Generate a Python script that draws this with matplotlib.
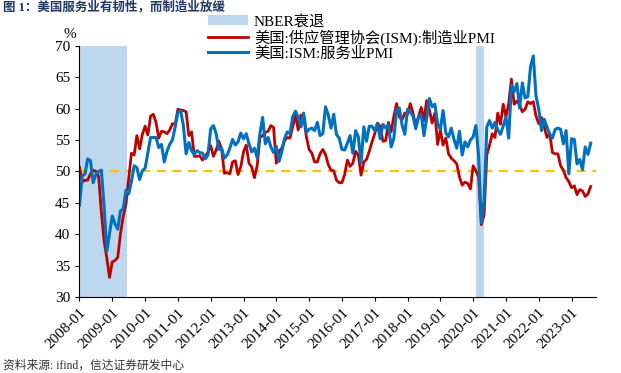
import numpy as np
import matplotlib
matplotlib.use("Agg")
from matplotlib import pyplot as plt
from matplotlib.patches import Patch
from matplotlib.lines import Line2D

# ISM manufacturing PMI, monthly 2008-01 .. 2023-08
mfg_pmi = [
    50.7, 48.3, 48.6, 48.6, 49.6, 50.2, 50.0, 49.2, 43.5, 38.9, 36.2, 33.1,
    35.6, 35.8, 36.3, 40.1, 42.8, 44.8, 48.9, 52.9, 52.6, 55.7, 53.6, 55.9,
    57.2, 55.8, 58.8, 59.1, 57.8, 55.3, 56.4, 56.3, 56.0, 56.6, 57.6, 57.5,
    59.9, 59.8, 59.7, 59.5, 55.7, 56.3, 52.4, 52.4, 52.5, 51.8, 52.4, 53.1,
    54.1, 52.4, 53.4, 54.8, 53.5, 49.7, 49.8, 49.6, 51.5, 51.7, 49.5, 50.7,
    53.1, 54.2, 51.3, 50.7, 49.0, 50.9, 55.4, 55.7, 56.2, 56.4, 57.3, 57.0,
    51.3, 53.2, 53.7, 54.9, 55.4, 55.3, 57.1, 59.0, 56.6, 59.0, 58.7, 55.5,
    53.5, 52.9, 51.5, 51.5, 52.8, 53.5, 52.7, 51.1, 50.2, 50.1, 48.6, 48.2,
    48.2, 49.5, 51.8, 50.8, 51.3, 53.2, 52.6, 49.4, 51.5, 51.9, 53.2, 54.7,
    56.0, 57.7, 57.2, 54.8, 54.9, 57.8, 56.3, 58.8, 60.8, 58.7, 58.2, 59.3,
    59.1, 60.8, 59.3, 57.3, 58.7, 60.2, 58.1, 61.3, 59.8, 57.7, 59.3, 54.3,
    56.6, 54.2, 55.3, 52.8, 52.1, 51.7, 51.2, 49.1, 47.8, 48.3, 48.1, 47.2,
    50.9, 50.1, 49.1, 41.5, 43.1, 52.6, 54.2, 56.0, 55.4, 59.3, 57.5, 60.7,
    58.7, 60.8, 64.7, 60.7, 61.2, 60.6, 59.5, 59.9, 61.1, 60.8, 61.1, 58.8,
    57.6, 58.6, 57.1, 55.4, 56.1, 53.0, 52.8, 52.8, 50.9, 50.2, 49.0, 48.4,
    47.4, 47.7, 46.3, 47.1, 46.9, 46.0, 46.4, 47.6,
]

# ISM services PMI, monthly 2008-01 .. 2023-08
svc_pmi = [
    44.6, 49.3, 49.6, 52.0, 51.7, 48.2, 49.5, 50.0, 50.2, 44.4, 37.3, 40.1,
    42.9, 41.6, 40.8, 43.7, 44.0, 47.0, 46.4, 48.4, 50.9, 50.6, 48.7, 50.1,
    50.5, 53.0, 55.4, 55.4, 55.4, 53.8, 54.3, 51.5, 53.2, 54.3, 55.0, 57.1,
    59.4, 59.7, 57.3, 52.8, 54.6, 53.3, 52.7, 53.3, 53.0, 52.9, 52.0, 52.6,
    56.8, 57.3, 56.0, 53.5, 53.7, 52.1, 52.6, 53.7, 55.1, 54.2, 54.7, 56.1,
    55.2, 56.0, 54.4, 53.1, 53.7, 52.2, 56.0, 58.6, 54.4, 55.4, 53.9, 53.0,
    54.0, 51.6, 53.1, 55.2, 56.3, 56.0, 58.7, 59.6, 58.6, 57.1, 59.3, 56.2,
    56.7, 56.9, 56.5, 57.8, 55.7, 56.0, 60.3, 59.0, 56.9, 59.1, 55.9, 55.3,
    53.5, 53.4, 54.5, 55.7, 52.9, 56.5, 55.5, 51.4, 57.1, 54.8, 57.2, 57.2,
    56.5, 57.6, 55.2, 57.5, 56.9, 57.4, 53.9, 55.3, 59.8, 60.1, 57.4, 55.9,
    59.9, 59.5, 58.8, 56.8, 58.6, 59.1, 55.7, 58.5, 61.6, 60.3, 60.7, 57.6,
    56.7, 59.7, 56.1, 55.5, 56.9, 55.1, 53.7, 56.4, 52.6, 54.7, 53.9, 55.0,
    55.5, 57.3, 52.5, 41.8, 45.4, 57.1, 58.1, 56.9, 57.8, 56.6, 55.9, 57.2,
    58.7, 55.3, 63.7, 62.7, 64.0, 60.1, 64.1, 61.7, 61.9, 66.7, 68.4, 62.0,
    59.9, 56.5, 58.3, 57.1, 55.9, 55.3, 56.7, 56.9, 56.7, 54.4, 56.5, 49.6,
    55.2, 55.1, 51.2, 51.9, 50.3, 53.9, 52.7, 54.5,
]

years = list(range(2008, 2024))
tick_labels = ["%d-01" % y for y in years]
recessions = [(0, 17.5), (145, 148)]  # month offsets from 2008-01

cn = ["Liberation Serif", "Noto Sans CJK SC"]
plt.rcParams["font.family"] = cn

fig = plt.figure(figsize=(6.21, 3.73), dpi=100)
ax = fig.add_axes([0.128, 0.204, 0.832, 0.673])

months = np.arange(len(mfg_pmi))
for a, b in recessions:
    ax.axvspan(a, b, color="#BDD7EE", lw=0)
ax.axhline(50, color="#FFC000", lw=1.6, ls=(0, (4, 3)))
ax.plot(months, mfg_pmi, color="#C00000", lw=2.0)
ax.plot(months, svc_pmi, color="#0070C0", lw=2.2)

ax.set_xlim(0, 189)
ax.set_ylim(30, 70)
ax.set_yticks(range(30, 71, 5))
ax.set_xticks([12 * i for i in range(len(years))])
ax.set_xticklabels(tick_labels, rotation=45, ha="right", rotation_mode="anchor")
ax.tick_params(labelsize=11, length=3, direction="out")
ax.spines["top"].set_visible(False)
ax.spines["right"].set_visible(False)
ax.text(-0.03, 1.03, "%", transform=ax.transAxes, fontsize=11, ha="left")

handles = [
    Patch(facecolor="#BDD7EE", edgecolor="none"),
    Line2D([], [], color="#C00000", lw=2.0),
    Line2D([], [], color="#0070C0", lw=2.2),
]
labels = ["NBER衰退", "美国:供应管理协会(ISM):制造业PMI", "美国:ISM:服务业PMI"]
fig.legend(handles, labels, loc="upper left", bbox_to_anchor=(0.318, 0.99),
           frameon=False, fontsize=11, handlelength=2.6, handletextpad=0.4,
           labelspacing=0.05, borderpad=0.2)

fig.text(0.005, 0.998, "图 1：美国服务业有韧性，而制造业放缓", fontsize=9,
         fontweight="bold", color="#1F3864", va="top")
fig.text(0.005, 0.003, "资料来源: ifind，信达证券研发中心", fontsize=8.5,
         color="#333333", va="bottom")

fig.savefig("out.png", dpi=100)
